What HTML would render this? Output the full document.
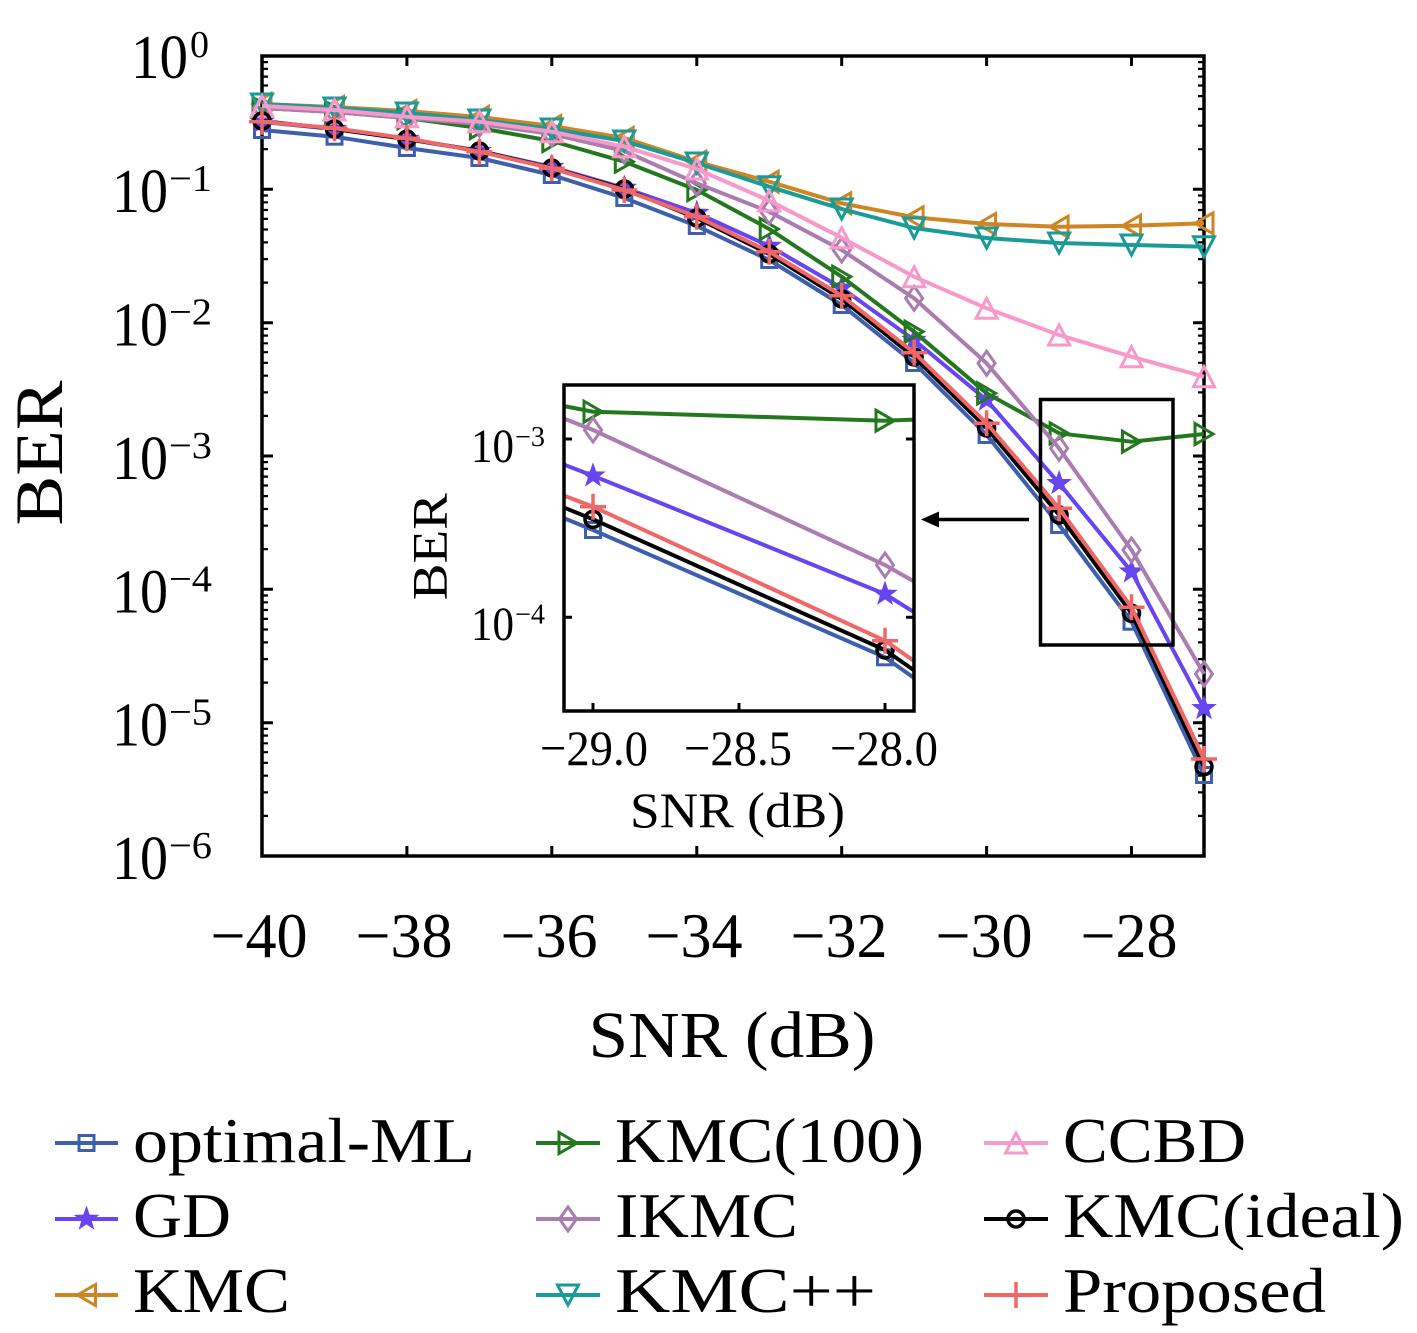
<!DOCTYPE html>
<html><head><meta charset="utf-8"><style>
html,body{margin:0;padding:0;background:#fff;}
svg{display:block;}
text{font-family:"Liberation Serif",serif;fill:#000;}
</style></head><body>
<svg width="1417" height="1333" viewBox="0 0 1417 1333" xmlns="http://www.w3.org/2000/svg">
<defs>
<g id="msq"><rect x="-7.5" y="-7.5" width="15" height="15" fill="none" stroke="#3d5fae" stroke-width="3"/></g>
<g id="mst"><polygon points="0,-13.5 3.17,-4.37 12.84,-4.17 5.14,1.67 7.94,10.92 0,5.4 -7.94,10.92 -5.14,1.67 -12.84,-4.17 -3.17,-4.37" fill="#6745f0"/></g>
<g id="mlt"><polygon points="-9,0 9,-10.5 9,10.5" fill="none" stroke="#cf8523" stroke-width="3"/></g>
<g id="mrt"><polygon points="9,0 -9,-10.5 -9,10.5" fill="none" stroke="#23781e" stroke-width="3"/></g>
<g id="mdm"><polygon points="0,-12 8.5,0 0,12 -8.5,0" fill="none" stroke="#ab7cb0" stroke-width="3"/></g>
<g id="mdt"><polygon points="0,10 -10.5,-10 10.5,-10" fill="none" stroke="#1a9b98" stroke-width="3"/></g>
<g id="mut"><polygon points="0,-10 -10.5,10 10.5,10" fill="none" stroke="#f79ac9" stroke-width="3"/></g>
<g id="mci"><circle r="8" fill="none" stroke="#000" stroke-width="3.5"/></g>
<g id="mpl"><path d="M-13 0H13M0 -13V13" stroke="#ef6767" stroke-width="3.5" fill="none"/></g>
<clipPath id="ic"><rect x="564" y="385" width="350" height="326"/></clipPath>
</defs>

<!-- main frame -->
<rect x="262" y="56" width="942" height="800" fill="none" stroke="#000" stroke-width="3.5"/>
<path d="M406.9 856v-10M551.8 856v-10M696.8 856v-10M841.7 856v-10M986.6 856v-10M1131.5 856v-10M406.9 56v10M551.8 56v10M696.8 56v10M841.7 56v10M986.6 56v10M1131.5 56v10" stroke="#000" stroke-width="3"/>
<path d="M262 189.3h11M262 322.7h11M262 456h11M262 589.3h11M262 722.7h11M1204 189.3h-11M1204 322.7h-11M1204 456h-11M1204 589.3h-11M1204 722.7h-11" stroke="#000" stroke-width="3"/>
<path d="M262 149.2h6M262 125.7h6M262 109h6M262 96.1h6M262 85.5h6M262 76.6h6M262 68.9h6M262 62.1h6
M262 282.6h6M262 259.1h6M262 242.4h6M262 229.5h6M262 218.9h6M262 210h6M262 202.3h6M262 195.5h6
M262 415.9h6M262 392.4h6M262 375.7h6M262 362.8h6M262 352.2h6M262 343.3h6M262 335.6h6M262 328.8h6
M262 549.2h6M262 525.7h6M262 509h6M262 496.1h6M262 485.5h6M262 476.6h6M262 468.9h6M262 462.1h6
M262 682.6h6M262 659.1h6M262 642.4h6M262 629.5h6M262 618.9h6M262 610h6M262 602.3h6M262 595.5h6
M262 815.9h6M262 792.4h6M262 775.7h6M262 762.8h6M262 752.2h6M262 743.3h6M262 735.6h6M262 728.8h6
M1204 149.2h-6M1204 125.7h-6M1204 109h-6M1204 96.1h-6M1204 85.5h-6M1204 76.6h-6M1204 68.9h-6M1204 62.1h-6
M1204 282.6h-6M1204 259.1h-6M1204 242.4h-6M1204 229.5h-6M1204 218.9h-6M1204 210h-6M1204 202.3h-6M1204 195.5h-6
M1204 415.9h-6M1204 392.4h-6M1204 375.7h-6M1204 362.8h-6M1204 352.2h-6M1204 343.3h-6M1204 335.6h-6M1204 328.8h-6
M1204 549.2h-6M1204 525.7h-6M1204 509h-6M1204 496.1h-6M1204 485.5h-6M1204 476.6h-6M1204 468.9h-6M1204 462.1h-6
M1204 682.6h-6M1204 659.1h-6M1204 642.4h-6M1204 629.5h-6M1204 618.9h-6M1204 610h-6M1204 602.3h-6M1204 595.5h-6
M1204 815.9h-6M1204 792.4h-6M1204 775.7h-6M1204 762.8h-6M1204 752.2h-6M1204 743.3h-6M1204 735.6h-6M1204 728.8h-6" stroke="#000" stroke-width="2.2"/>

<!-- y tick labels -->
<text x="188" y="78" font-size="62" text-anchor="end" textLength="57" lengthAdjust="spacingAndGlyphs">10</text><text x="190" y="57" font-size="38">0</text>
<text x="168" y="212" font-size="62" text-anchor="end" textLength="56" lengthAdjust="spacingAndGlyphs">10</text><text x="169" y="191" font-size="38" textLength="43" lengthAdjust="spacingAndGlyphs">−1</text>
<text x="168" y="345.7" font-size="62" text-anchor="end" textLength="56" lengthAdjust="spacingAndGlyphs">10</text><text x="169" y="324.7" font-size="38" textLength="43" lengthAdjust="spacingAndGlyphs">−2</text>
<text x="168" y="479" font-size="62" text-anchor="end" textLength="56" lengthAdjust="spacingAndGlyphs">10</text><text x="169" y="458" font-size="38" textLength="43" lengthAdjust="spacingAndGlyphs">−3</text>
<text x="168" y="612.3" font-size="62" text-anchor="end" textLength="56" lengthAdjust="spacingAndGlyphs">10</text><text x="169" y="591.3" font-size="38" textLength="43" lengthAdjust="spacingAndGlyphs">−4</text>
<text x="168" y="745.7" font-size="62" text-anchor="end" textLength="56" lengthAdjust="spacingAndGlyphs">10</text><text x="169" y="724.7" font-size="38" textLength="43" lengthAdjust="spacingAndGlyphs">−5</text>
<text x="168" y="879" font-size="62" text-anchor="end" textLength="56" lengthAdjust="spacingAndGlyphs">10</text><text x="169" y="858" font-size="38" textLength="43" lengthAdjust="spacingAndGlyphs">−6</text>

<!-- x tick labels -->
<g font-size="64" text-anchor="middle">
<text x="259" y="957" textLength="97" lengthAdjust="spacingAndGlyphs">−40</text>
<text x="404" y="957" textLength="97" lengthAdjust="spacingAndGlyphs">−38</text>
<text x="549" y="957" textLength="97" lengthAdjust="spacingAndGlyphs">−36</text>
<text x="694" y="957" textLength="97" lengthAdjust="spacingAndGlyphs">−34</text>
<text x="839" y="957" textLength="97" lengthAdjust="spacingAndGlyphs">−32</text>
<text x="984" y="957" textLength="97" lengthAdjust="spacingAndGlyphs">−30</text>
<text x="1129" y="957" textLength="97" lengthAdjust="spacingAndGlyphs">−28</text>
</g>

<!-- axis labels -->
<text x="732" y="1057" font-size="66" text-anchor="middle" textLength="287" lengthAdjust="spacingAndGlyphs">SNR (dB)</text>
<text transform="translate(62,453) rotate(-90)" x="0" y="0" font-size="68" text-anchor="middle" textLength="145" lengthAdjust="spacingAndGlyphs">BER</text>

<!-- optimal-ML -->
<polyline fill="none" stroke="#3d5fae" stroke-width="4" stroke-linejoin="round" points="262,130 334.5,136.7 406.9,148 479.4,158 551.8,175 624.3,198 696.8,226 769.2,260 841.7,305 914.1,363 986.6,435 1059.1,525 1131.5,621.7 1204,775"/>
<use href="#msq" x="262" y="130"/><use href="#msq" x="334.5" y="136.7"/><use href="#msq" x="406.9" y="148"/><use href="#msq" x="479.4" y="158"/><use href="#msq" x="551.8" y="175"/><use href="#msq" x="624.3" y="198"/><use href="#msq" x="696.8" y="226"/><use href="#msq" x="769.2" y="260"/><use href="#msq" x="841.7" y="305"/><use href="#msq" x="914.1" y="363"/><use href="#msq" x="986.6" y="435"/><use href="#msq" x="1059.1" y="525"/><use href="#msq" x="1131.5" y="621.7"/><use href="#msq" x="1204" y="775"/>

<!-- GD -->
<polyline fill="none" stroke="#6745f0" stroke-width="4" stroke-linejoin="round" points="262,122 334.5,129 406.9,139 479.4,151 551.8,167 624.3,188 696.8,213 769.2,246 841.7,288 914.1,340 986.6,400 1059.1,483.3 1131.5,571.7 1204,708.3"/>
<use href="#mst" x="262" y="122"/><use href="#mst" x="334.5" y="129"/><use href="#mst" x="406.9" y="139"/><use href="#mst" x="479.4" y="151"/><use href="#mst" x="551.8" y="167"/><use href="#mst" x="624.3" y="188"/><use href="#mst" x="696.8" y="213"/><use href="#mst" x="769.2" y="246"/><use href="#mst" x="841.7" y="288"/><use href="#mst" x="914.1" y="340"/><use href="#mst" x="986.6" y="400"/><use href="#mst" x="1059.1" y="483.3"/><use href="#mst" x="1131.5" y="571.7"/><use href="#mst" x="1204" y="708.3"/>

<!-- KMC -->
<polyline fill="none" stroke="#cf8523" stroke-width="4" stroke-linejoin="round" points="262,104 334.5,107 406.9,111 479.4,117 551.8,126 624.3,138 696.8,161.7 769.2,181.7 841.7,203.3 914.1,217.3 986.6,224 1059.1,226.7 1131.5,225.7 1204,223.3"/>
<use href="#mlt" x="262" y="104"/><use href="#mlt" x="334.5" y="107"/><use href="#mlt" x="406.9" y="111"/><use href="#mlt" x="479.4" y="117"/><use href="#mlt" x="551.8" y="126"/><use href="#mlt" x="624.3" y="138"/><use href="#mlt" x="696.8" y="161.7"/><use href="#mlt" x="769.2" y="181.7"/><use href="#mlt" x="841.7" y="203.3"/><use href="#mlt" x="914.1" y="217.3"/><use href="#mlt" x="986.6" y="224"/><use href="#mlt" x="1059.1" y="226.7"/><use href="#mlt" x="1131.5" y="225.7"/><use href="#mlt" x="1204" y="223.3"/>

<!-- KMC(100) -->
<polyline fill="none" stroke="#23781e" stroke-width="4" stroke-linejoin="round" points="262,108 334.5,112 406.9,118 479.4,128 551.8,141 624.3,161.7 696.8,190 769.2,229 841.7,276.7 914.1,331.7 986.6,393.3 1059.1,433.3 1131.5,441.7 1204,434"/>
<use href="#mrt" x="262" y="108"/><use href="#mrt" x="334.5" y="112"/><use href="#mrt" x="406.9" y="118"/><use href="#mrt" x="479.4" y="128"/><use href="#mrt" x="551.8" y="141"/><use href="#mrt" x="624.3" y="161.7"/><use href="#mrt" x="696.8" y="190"/><use href="#mrt" x="769.2" y="229"/><use href="#mrt" x="841.7" y="276.7"/><use href="#mrt" x="914.1" y="331.7"/><use href="#mrt" x="986.6" y="393.3"/><use href="#mrt" x="1059.1" y="433.3"/><use href="#mrt" x="1131.5" y="441.7"/><use href="#mrt" x="1204" y="434"/>

<!-- IKMC -->
<polyline fill="none" stroke="#ab7cb0" stroke-width="4" stroke-linejoin="round" points="262,108 334.5,112 406.9,118 479.4,124 551.8,134 624.3,151 696.8,183.3 769.2,211.7 841.7,250 914.1,298.3 986.6,363.3 1059.1,448.3 1131.5,550 1204,674"/>
<use href="#mdm" x="262" y="108"/><use href="#mdm" x="334.5" y="112"/><use href="#mdm" x="406.9" y="118"/><use href="#mdm" x="479.4" y="124"/><use href="#mdm" x="551.8" y="134"/><use href="#mdm" x="624.3" y="151"/><use href="#mdm" x="696.8" y="183.3"/><use href="#mdm" x="769.2" y="211.7"/><use href="#mdm" x="841.7" y="250"/><use href="#mdm" x="914.1" y="298.3"/><use href="#mdm" x="986.6" y="363.3"/><use href="#mdm" x="1059.1" y="448.3"/><use href="#mdm" x="1131.5" y="550"/><use href="#mdm" x="1204" y="674"/>

<!-- KMC++ -->
<polyline fill="none" stroke="#1a9b98" stroke-width="4" stroke-linejoin="round" points="262,104 334.5,108 406.9,113 479.4,120 551.8,129 624.3,141 696.8,163 769.2,186.7 841.7,209 914.1,228 986.6,238 1059.1,243 1131.5,245 1204,246.7"/>
<use href="#mdt" x="262" y="104"/><use href="#mdt" x="334.5" y="108"/><use href="#mdt" x="406.9" y="113"/><use href="#mdt" x="479.4" y="120"/><use href="#mdt" x="551.8" y="129"/><use href="#mdt" x="624.3" y="141"/><use href="#mdt" x="696.8" y="163"/><use href="#mdt" x="769.2" y="186.7"/><use href="#mdt" x="841.7" y="209"/><use href="#mdt" x="914.1" y="228"/><use href="#mdt" x="986.6" y="238"/><use href="#mdt" x="1059.1" y="243"/><use href="#mdt" x="1131.5" y="245"/><use href="#mdt" x="1204" y="246.7"/>

<!-- CCBD -->
<polyline fill="none" stroke="#f79ac9" stroke-width="4" stroke-linejoin="round" points="262,106 334.5,110 406.9,116.7 479.4,121.7 551.8,131.7 624.3,146.7 696.8,169 769.2,200.7 841.7,237.7 914.1,276.7 986.6,308.3 1059.1,335 1131.5,356.7 1204,376.7"/>
<use href="#mut" x="262" y="106"/><use href="#mut" x="334.5" y="110"/><use href="#mut" x="406.9" y="116.7"/><use href="#mut" x="479.4" y="121.7"/><use href="#mut" x="551.8" y="131.7"/><use href="#mut" x="624.3" y="146.7"/><use href="#mut" x="696.8" y="169"/><use href="#mut" x="769.2" y="200.7"/><use href="#mut" x="841.7" y="237.7"/><use href="#mut" x="914.1" y="276.7"/><use href="#mut" x="986.6" y="308.3"/><use href="#mut" x="1059.1" y="335"/><use href="#mut" x="1131.5" y="356.7"/><use href="#mut" x="1204" y="376.7"/>

<!-- KMC(ideal) -->
<polyline fill="none" stroke="#000" stroke-width="4" stroke-linejoin="round" points="262,121 334.5,129 406.9,139 479.4,151 551.8,168 624.3,189 696.8,218 769.2,254 841.7,299 914.1,357 986.6,428 1059.1,515 1131.5,613.3 1204,766.7"/>
<use href="#mci" x="262" y="121"/><use href="#mci" x="334.5" y="129"/><use href="#mci" x="406.9" y="139"/><use href="#mci" x="479.4" y="151"/><use href="#mci" x="551.8" y="168"/><use href="#mci" x="624.3" y="189"/><use href="#mci" x="696.8" y="218"/><use href="#mci" x="769.2" y="254"/><use href="#mci" x="841.7" y="299"/><use href="#mci" x="914.1" y="357"/><use href="#mci" x="986.6" y="428"/><use href="#mci" x="1059.1" y="515"/><use href="#mci" x="1131.5" y="613.3"/><use href="#mci" x="1204" y="766.7"/>

<!-- Proposed -->
<polyline fill="none" stroke="#ef6767" stroke-width="4" stroke-linejoin="round" points="262,121.7 334.5,128.3 406.9,138.3 479.4,151.7 551.8,168.3 624.3,190 696.8,216.7 769.2,251.7 841.7,295.7 914.1,352.7 986.6,423.3 1059.1,508.3 1131.5,607.3 1204,759"/>
<use href="#mpl" x="262" y="121.7"/><use href="#mpl" x="334.5" y="128.3"/><use href="#mpl" x="406.9" y="138.3"/><use href="#mpl" x="479.4" y="151.7"/><use href="#mpl" x="551.8" y="168.3"/><use href="#mpl" x="624.3" y="190"/><use href="#mpl" x="696.8" y="216.7"/><use href="#mpl" x="769.2" y="251.7"/><use href="#mpl" x="841.7" y="295.7"/><use href="#mpl" x="914.1" y="352.7"/><use href="#mpl" x="986.6" y="423.3"/><use href="#mpl" x="1059.1" y="508.3"/><use href="#mpl" x="1131.5" y="607.3"/><use href="#mpl" x="1204" y="759"/>

<!-- zoom rectangle and arrow -->
<rect x="1040.5" y="399.5" width="132.5" height="245.5" fill="none" stroke="#000" stroke-width="3.5"/>
<line x1="1029" y1="519.5" x2="935" y2="519.5" stroke="#000" stroke-width="3.5"/>
<polygon points="921,519.5 939,511.5 939,527.5" fill="#000"/>

<!-- inset -->
<rect x="564" y="385" width="350" height="326" fill="#fff"/>
<g clip-path="url(#ic)">
<polyline fill="none" stroke="#3d5fae" stroke-width="4" points="301,410.9 593,530 885,657.3 1177,865.1"/>
<use href="#msq" x="593" y="530"/><use href="#msq" x="885" y="657.3"/>
<polyline fill="none" stroke="#6745f0" stroke-width="4" points="301,364.1 593,475.7 885,594 1177,776.4"/>
<use href="#mst" x="593" y="475.7"/><use href="#mst" x="885" y="594"/>
<polyline fill="none" stroke="#23781e" stroke-width="4" points="301,355.2 593,411.7 885,420.7 1177,409.6"/>
<use href="#mrt" x="593" y="411.7"/><use href="#mrt" x="885" y="420.7"/>
<polyline fill="none" stroke="#ab7cb0" stroke-width="4" points="301,315 593,430 885,565 1177,730.5"/>
<use href="#mdm" x="593" y="430"/><use href="#mdm" x="885" y="565"/>
<polyline fill="none" stroke="#000" stroke-width="4" points="301,401.6 593,519.3 885,650 1177,854.5"/>
<use href="#mci" x="593" y="519.3"/><use href="#mci" x="885" y="650"/>
<polyline fill="none" stroke="#ef6767" stroke-width="4" points="301,395.3 593,506.7 885,640.7 1177,844.2"/>
<use href="#mpl" x="593" y="506.7"/><use href="#mpl" x="885" y="640.7"/>
</g>
<rect x="564" y="385" width="350" height="326" fill="none" stroke="#000" stroke-width="3.5"/>
<path d="M593 711v-8M739 711v-8M885 711v-8M564 439h8M564 617.3h8M914 439h-8M914 617.3h-8" stroke="#000" stroke-width="3"/>
<text x="514" y="462" font-size="48" text-anchor="end" textLength="43" lengthAdjust="spacingAndGlyphs">10</text><text x="515" y="446" font-size="28" textLength="30" lengthAdjust="spacingAndGlyphs">−3</text>
<text x="514" y="640" font-size="48" text-anchor="end" textLength="43" lengthAdjust="spacingAndGlyphs">10</text><text x="515" y="623.5" font-size="28" textLength="30" lengthAdjust="spacingAndGlyphs">−4</text>
<g font-size="50" text-anchor="middle">
<text x="594" y="765" textLength="108" lengthAdjust="spacingAndGlyphs">−29.0</text>
<text x="738" y="765" textLength="108" lengthAdjust="spacingAndGlyphs">−28.5</text>
<text x="884" y="765" textLength="108" lengthAdjust="spacingAndGlyphs">−28.0</text>
</g>
<text x="737.5" y="827" font-size="50" text-anchor="middle" textLength="215" lengthAdjust="spacingAndGlyphs">SNR (dB)</text>
<text transform="translate(446.5,546.7) rotate(-90)" x="0" y="0" font-size="50" text-anchor="middle" textLength="107" lengthAdjust="spacingAndGlyphs">BER</text>

<!-- legend -->
<g stroke-width="4">
<line x1="55" y1="1143" x2="118" y2="1143" stroke="#3d5fae"/>
<line x1="55" y1="1219" x2="118" y2="1219" stroke="#6745f0"/>
<line x1="55" y1="1295" x2="118" y2="1295" stroke="#cf8523"/>
<line x1="536" y1="1143" x2="600" y2="1143" stroke="#23781e"/>
<line x1="536" y1="1219" x2="600" y2="1219" stroke="#ab7cb0"/>
<line x1="536" y1="1295" x2="600" y2="1295" stroke="#1a9b98"/>
<line x1="984" y1="1143" x2="1048" y2="1143" stroke="#f79ac9"/>
<line x1="984" y1="1219" x2="1048" y2="1219" stroke="#000"/>
<line x1="984" y1="1295" x2="1048" y2="1295" stroke="#ef6767"/>
</g>
<use href="#msq" x="86.5" y="1143"/>
<use href="#mst" x="86.5" y="1219"/>
<use href="#mlt" x="86.5" y="1295"/>
<use href="#mrt" x="568" y="1143"/>
<use href="#mdm" x="568" y="1219"/>
<use href="#mdt" x="568" y="1295"/>
<use href="#mut" x="1016" y="1143"/>
<use href="#mci" x="1016" y="1219"/>
<use href="#mpl" x="1016" y="1295"/>
<g font-size="64">
<text x="133" y="1162" textLength="342" lengthAdjust="spacingAndGlyphs">optimal-ML</text>
<text x="133" y="1237" textLength="98" lengthAdjust="spacingAndGlyphs">GD</text>
<text x="133" y="1312" textLength="157" lengthAdjust="spacingAndGlyphs">KMC</text>
<text x="615" y="1162" textLength="309" lengthAdjust="spacingAndGlyphs">KMC(100)</text>
<text x="615" y="1237" textLength="183" lengthAdjust="spacingAndGlyphs">IKMC</text>
<text x="615" y="1312" textLength="261" lengthAdjust="spacingAndGlyphs">KMC++</text>
<text x="1063" y="1162" textLength="183" lengthAdjust="spacingAndGlyphs">CCBD</text>
<text x="1063" y="1237" textLength="341" lengthAdjust="spacingAndGlyphs">KMC(ideal)</text>
<text x="1063" y="1312" textLength="263" lengthAdjust="spacingAndGlyphs">Proposed</text>
</g>
</svg>
</body></html>
